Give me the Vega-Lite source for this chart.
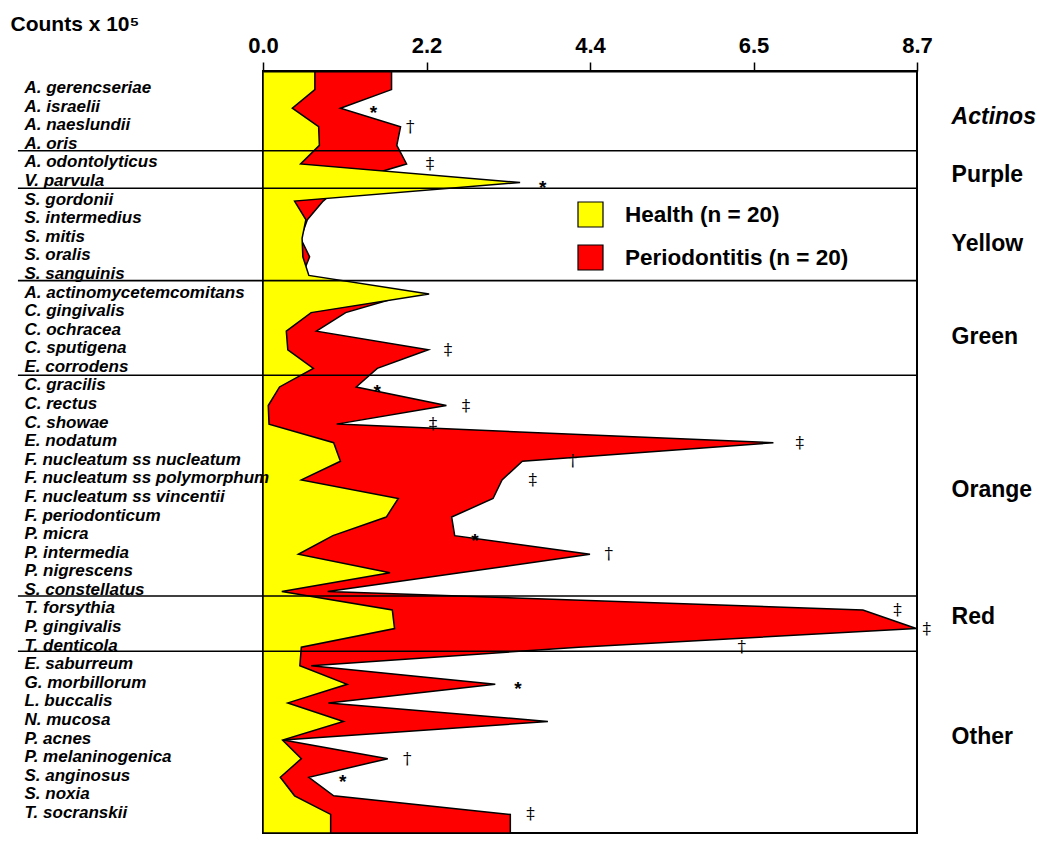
{
  "$schema": "https://vega.github.io/schema/vega-lite/v6.json",
  "width": 654,
  "height": 762,
  "autosize": {"type": "none"},
  "padding": {"left": 263, "top": 71, "right": 133, "bottom": 17},
  "background": "white",
  "config": {
    "font": "Liberation Sans",
    "view": {"stroke": "black", "strokeWidth": 2}
  },
  "datasets": {
    "rows": [
      {"species": "", "health": 0.69, "perio": 1.71},
      {"species": "A. gerencseriae", "health": 0.69, "perio": 1.71},
      {"species": "A. israelii", "health": 0.39, "perio": 1.03, "sig": "*", "sigX": 1.47},
      {"species": "A. naeslundii", "health": 0.74, "perio": 1.83, "sig": "†", "sigX": 1.96},
      {"species": "A. oris", "health": 0.75, "perio": 1.78},
      {"species": "A. odontolyticus", "health": 0.50, "perio": 1.91, "sig": "‡", "sigX": 2.22},
      {"species": "V. parvula", "health": 3.42, "perio": 1.08, "sig": "*", "sigX": 3.72},
      {"species": "S. gordonii", "health": 0.42, "perio": 0.80},
      {"species": "S. intermedius", "health": 0.57, "perio": 0.59},
      {"species": "S. mitis", "health": 0.52, "perio": 0.50},
      {"species": "S. oralis", "health": 0.53, "perio": 0.62},
      {"species": "S. sanguinis", "health": 0.61, "perio": 0.52},
      {"species": "A. actinomycetemcomitans", "health": 2.21, "perio": 1.95},
      {"species": "C. gingivalis", "health": 0.64, "perio": 1.10},
      {"species": "C. ochracea", "health": 0.31, "perio": 0.71},
      {"species": "C. sputigena", "health": 0.33, "perio": 2.20, "sig": "‡", "sigX": 2.46},
      {"species": "E. corrodens", "health": 0.67, "perio": 1.52},
      {"species": "C. gracilis", "health": 0.22, "perio": 1.24, "sig": "*", "sigX": 1.52},
      {"species": "C. rectus", "health": 0.07, "perio": 2.44, "sig": "‡", "sigX": 2.70},
      {"species": "C. showae", "health": 0.08, "perio": 0.98, "sig": "‡", "sigX": 2.26},
      {"species": "E. nodatum", "health": 0.94, "perio": 6.79, "sig": "‡", "sigX": 7.14},
      {"species": "F. nucleatum ss nucleatum", "health": 1.03, "perio": 3.45, "sig": "†", "sigX": 4.12},
      {"species": "F. nucleatum ss polymorphum", "health": 0.51, "perio": 3.18, "sig": "‡", "sigX": 3.59},
      {"species": "F. nucleatum ss vincentii", "health": 1.80, "perio": 3.06},
      {"species": "F. periodonticum", "health": 1.64, "perio": 2.51},
      {"species": "P. micra", "health": 0.93, "perio": 2.55, "sig": "*", "sigX": 2.82},
      {"species": "P. intermedia", "health": 0.47, "perio": 4.35, "sig": "†", "sigX": 4.60},
      {"species": "P. nigrescens", "health": 1.69, "perio": 2.62},
      {"species": "S. constellatus", "health": 0.25, "perio": 0.86},
      {"species": "T. forsythia", "health": 1.72, "perio": 7.98, "sig": "‡", "sigX": 8.44},
      {"species": "P. gingivalis", "health": 1.75, "perio": 8.69, "sig": "‡", "sigX": 8.83},
      {"species": "T. denticola", "health": 0.51, "perio": 4.2, "sig": "†", "sigX": 6.37},
      {"species": "E. saburreum", "health": 0.49, "perio": 0.64},
      {"species": "G. morbillorum", "health": 1.12, "perio": 3.09, "sig": "*", "sigX": 3.39},
      {"species": "L. buccalis", "health": 0.33, "perio": 0.87},
      {"species": "N. mucosa", "health": 1.07, "perio": 3.79},
      {"species": "P. acnes", "health": 0.26, "perio": 0.27},
      {"species": "P. melaninogenica", "health": 0.51, "perio": 1.66, "sig": "†", "sigX": 1.92},
      {"species": "S. anginosus", "health": 0.23, "perio": 0.61, "sig": "*", "sigX": 1.06},
      {"species": "S. noxia", "health": 0.42, "perio": 0.94},
      {"species": "T. socranskii", "health": 0.90, "perio": 3.29, "sig": "‡", "sigX": 3.56},
      {"species": " ", "health": 0.90, "perio": 3.29}
    ],
    "groups": [
      {"group": "Actinos", "labelRow": 1.48, "sepRow": 3.29},
      {"group": "Purple", "labelRow": 4.60, "sepRow": 5.31},
      {"group": "Yellow", "labelRow": 8.32, "sepRow": 10.28},
      {"group": "Green", "labelRow": 13.33, "sepRow": 15.37},
      {"group": "Orange", "labelRow": 21.55, "sepRow": 27.25},
      {"group": "Red", "labelRow": 28.36, "sepRow": 30.22},
      {"group": "Other", "labelRow": 34.82, "sepRow": null}
    ]
  },
  "layer": [
    {
      "data": {"name": "rows"},
      "layer": [
        {
          "mark": {"type": "area", "stroke": "black", "strokeWidth": 1.5, "opacity": 1, "orient": "horizontal"},
          "encoding": {
            "y": {
              "field": "species", "type": "nominal", "sort": null,
              "scale": {"type": "point", "padding": 0},
              "axis": {
                "title": null, "domain": false, "ticks": false, "tickSize": 0, "grid": false,
                "labelAlign": "left", "labelPadding": 239, "labelFont": "Liberation Sans",
                "labelFontSize": 17, "labelFontWeight": "bold", "labelFontStyle": "italic",
                "labelColor": "black", "labelLimit": 400, "labelOverlap": false,
                "labelBaseline": "alphabetic", "labelOffset": 3, "zindex": 1
              }
            },
            "x": {
              "field": "perio", "type": "quantitative", "stack": null,
              "scale": {"domain": [0, 8.7], "nice": false, "zero": true},
              "axis": {
                "orient": "top", "values": [0, 2.175, 4.35, 6.525, 8.7],
                "labelExpr": "datum.value < 1 ? '0.0' : datum.value < 3 ? '2.2' : datum.value < 5 ? '4.4' : datum.value < 7 ? '6.5' : '8.7'",
                "labelFont": "Liberation Sans", "labelFontSize": 22, "labelFontWeight": "bold",
                "labelColor": "black", "labelBaseline": "alphabetic", "labelPadding": 10,
                "labelFlush": false, "labelOverlap": false,
                "tickSize": 9, "tickWidth": 1.5, "tickColor": "black",
                "domainColor": "black", "domainWidth": 2, "grid": false,
                "title": "Counts x 10⁵", "titleFont": "Liberation Sans", "titleFontSize": 21,
                "titleFontWeight": "bold", "titleColor": "black",
                "titleX": -253, "titleY": -41, "titleAlign": "left", "titleBaseline": "alphabetic",
                "titleAngle": 0, "zindex": 1
              }
            },
            "color": {
              "datum": "Periodontitis (n = 20)",
              "scale": {"domain": ["Health (n = 20)", "Periodontitis (n = 20)"], "range": ["#ffff00", "#ff0000"]},
              "legend": {
                "orient": "none", "legendX": 314, "legendY": 130, "title": null,
                "symbolType": "square", "symbolSize": 625, "symbolStrokeColor": "black",
                "symbolStrokeWidth": 1.2, "symbolOpacity": 1,
                "labelFont": "Liberation Sans", "labelFontSize": 22.5, "labelFontWeight": "bold",
                "labelColor": "black", "labelOffset": 21, "rowPadding": 12, "padding": 0, "labelLimit": 400
              }
            }
          }
        },
        {
          "mark": {"type": "area", "stroke": "black", "strokeWidth": 1.5, "opacity": 1, "orient": "horizontal"},
          "encoding": {
            "y": {"field": "species", "type": "nominal", "sort": null},
            "x": {"field": "health", "type": "quantitative", "stack": null},
            "color": {"datum": "Health (n = 20)"}
          }
        },
        {
          "transform": [{"filter": "datum.sig === '*'"}],
          "mark": {"type": "text", "font": "Liberation Sans", "fontSize": 19, "fontWeight": "bold", "color": "black", "dy": 5, "align": "center", "baseline": "middle"},
          "encoding": {
            "y": {"field": "species", "type": "nominal", "sort": null},
            "x": {"field": "sigX", "type": "quantitative"},
            "text": {"field": "sig"}
          }
        },
        {
          "transform": [{"filter": "datum.sig === '†' || datum.sig === '‡'"}],
          "mark": {"type": "text", "font": "DejaVu Serif", "fontSize": 17, "color": "black", "align": "center", "baseline": "middle"},
          "encoding": {
            "y": {"field": "species", "type": "nominal", "sort": null},
            "x": {"field": "sigX", "type": "quantitative"},
            "text": {"field": "sig"}
          }
        }
      ]
    },
    {
      "data": {"name": "groups"},
      "layer": [
        {
          "transform": [{"filter": "datum.sepRow != null"}],
          "mark": {"type": "rule", "color": "black", "strokeWidth": 1.6},
          "encoding": {
            "y": {"field": "sepRow", "type": "quantitative", "scale": {"domain": [-1, 40], "reverse": true, "nice": false, "zero": false}, "axis": null},
            "x": {"datum": -3.26},
            "x2": {"datum": 8.7}
          }
        },
        {
          "transform": [{"filter": "datum.group === 'Actinos'"}],
          "mark": {"type": "text", "font": "Liberation Sans", "fontSize": 23, "fontWeight": "bold", "fontStyle": "italic", "color": "black", "align": "left", "baseline": "middle"},
          "encoding": {
            "y": {"field": "labelRow", "type": "quantitative"},
            "x": {"datum": 9.16},
            "text": {"field": "group"}
          }
        },
        {
          "transform": [{"filter": "datum.group !== 'Actinos'"}],
          "mark": {"type": "text", "font": "Liberation Sans", "fontSize": 23, "fontWeight": "bold", "color": "black", "align": "left", "baseline": "middle"},
          "encoding": {
            "y": {"field": "labelRow", "type": "quantitative"},
            "x": {"datum": 9.16},
            "text": {"field": "group"}
          }
        }
      ]
    }
  ],
  "resolve": {"scale": {"y": "independent"}}
}
